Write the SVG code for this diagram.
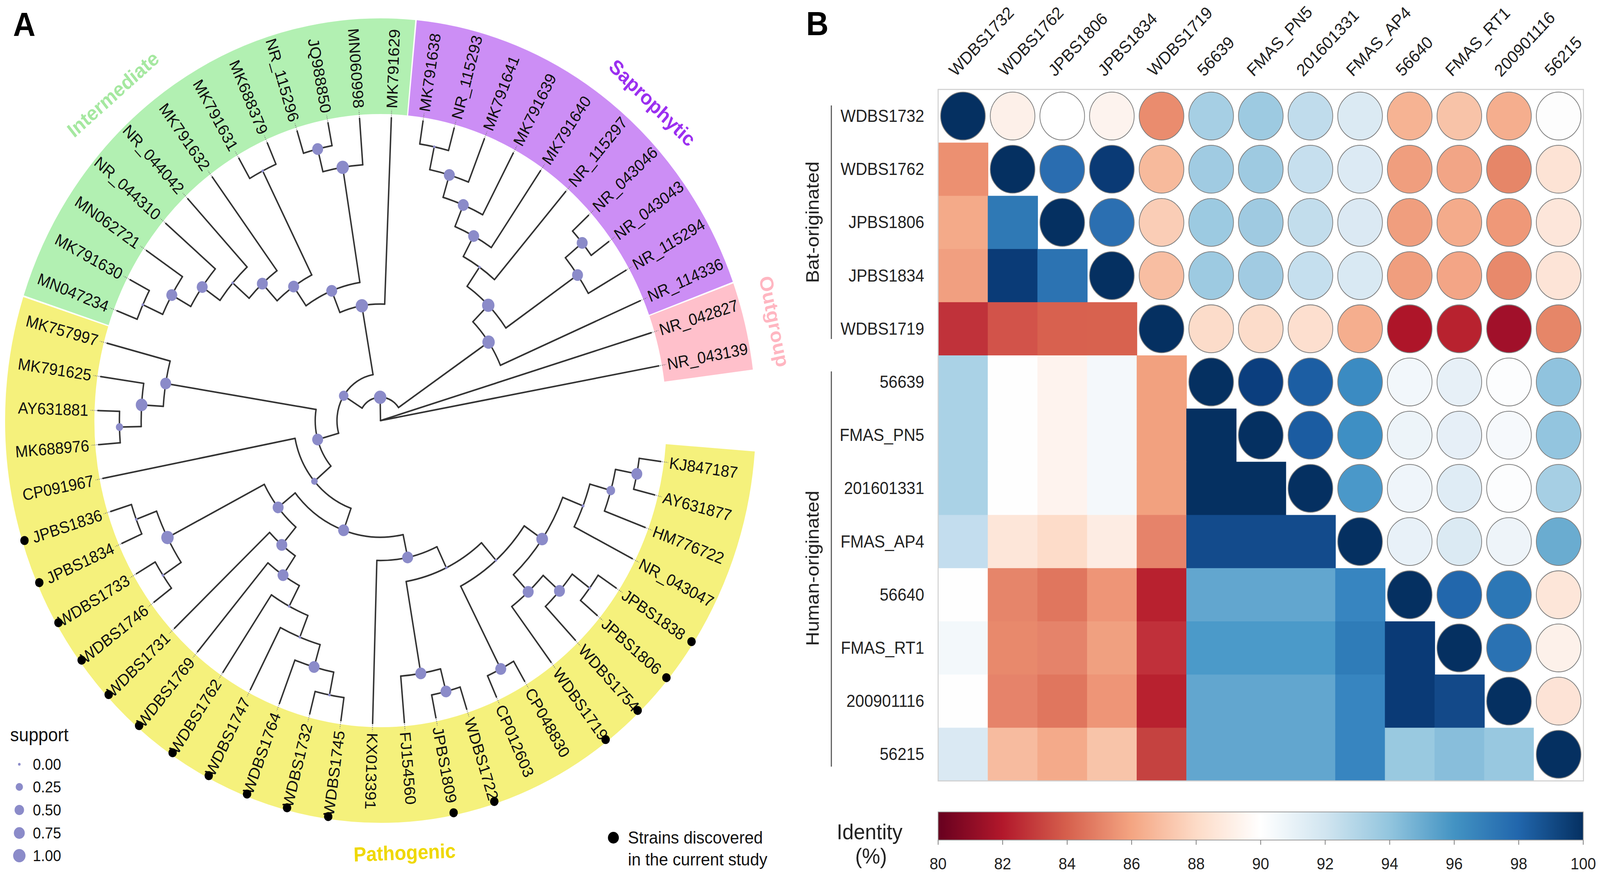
<svg xmlns="http://www.w3.org/2000/svg" width="4390" height="2261" viewBox="0 0 4390 2261" preserveAspectRatio="none">
<defs>
<linearGradient id="rdbu" x1="0" x2="1" y1="0" y2="0">
<stop offset="0" stop-color="#67001f"/><stop offset="0.1" stop-color="#b2182b"/><stop offset="0.2" stop-color="#d6604d"/><stop offset="0.3" stop-color="#f4a582"/><stop offset="0.4" stop-color="#fddbc7"/><stop offset="0.5" stop-color="#ffffff"/><stop offset="0.6" stop-color="#d1e5f0"/><stop offset="0.7" stop-color="#92c5de"/><stop offset="0.8" stop-color="#4393c3"/><stop offset="0.9" stop-color="#2166ac"/><stop offset="1" stop-color="#053061"/>
</linearGradient>
</defs>
<style>
svg{width:100vw;height:100vh}
text{font-family:"Liberation Sans",Arial,Helvetica,sans-serif}
.ld{stroke:#777;stroke-width:2.5;stroke-dasharray:2 3;fill:none}
.sd{fill:#000}
.clade{font-size:52px;font-weight:bold;text-anchor:middle}
.rl{font-size:44px;fill:#222;text-anchor:end}
.cl{font-size:44px;fill:#222}
.uc{stroke:#808080;stroke-width:1.5}
.dg{fill:#053061;stroke:#808080;stroke-width:1.5}
.tk{font-size:42px;fill:#222;text-anchor:middle}
</style>
<rect width="4390" height="2261" fill="#fff"/>

<g id="panelA">
<text x="36" y="92" font-size="85" font-weight="bold" fill="#000">A</text>

<g id="clade-ring" transform="translate(1044,1077)" fill="none" stroke-width="245">
<circle r="907.5" stroke="#ffc0cb" stroke-dasharray="200.52 9999" transform="rotate(-19.955)"/>
<circle r="907.5" stroke="#cc8ef5" stroke-dasharray="1017.81 9999" transform="rotate(-84.455)"/>
<circle r="907.5" stroke="#b2f0b2" stroke-dasharray="1222.13 9999" transform="rotate(-161.855)"/>
<circle r="907.5" stroke="#f5f17c" stroke-dasharray="3064.5 9999" transform="rotate(-355.6)"/>
</g>

<g id="clade-labels">
<text class="clade" fill="#a5e8a0" dy=".35em" transform="translate(310,241) rotate(-40)">Intermediate</text>
<text class="clade" fill="#9b2ff0" dy=".35em" transform="translate(1790,263) rotate(42.6)">Saprophytic</text>
<text class="clade" fill="#ffb6c1" dy=".35em" transform="translate(2125,823) rotate(78)">Outgroup</text>
<text class="clade" fill="#efd800" dy=".35em" transform="translate(1110,2183) rotate(-2)">Pathogenic</text>
</g>

<g id="connectors" transform="translate(1044,1077)" fill="none" stroke="#333" stroke-width="4" stroke-linecap="round">
<circle r="59.7" stroke-dasharray="118.43 9999" transform="rotate(-147.79)"/>
<circle r="119.4" stroke-dasharray="199.73 9999" transform="rotate(-195.715)"/>
<circle r="358.2" stroke-dasharray="135.47 9999" transform="rotate(-44.97)"/>
<circle r="417.9" stroke-dasharray="151.42 9999" transform="rotate(-55.35)"/>
<circle r="477.6" stroke-dasharray="104.2 9999" transform="rotate(-61.6)"/>
<circle r="537.3" stroke-dasharray="113.38 9999" transform="rotate(-67.64)"/>
<circle r="597" stroke-dasharray="117.64 9999" transform="rotate(-73.29)"/>
<circle r="656.7" stroke-dasharray="110.89 9999" transform="rotate(-78.125)"/>
<circle r="716.4" stroke-dasharray="80.65 9999" transform="rotate(-81.35)"/>
<circle r="656.7" stroke-dasharray="110.89 9999" transform="rotate(-39.425)"/>
<circle r="716.4" stroke-dasharray="80.65 9999" transform="rotate(-42.65)"/>
<circle r="298.5" stroke-dasharray="125.76 9999" transform="rotate(-111.94)"/>
<circle r="358.2" stroke-dasharray="160.67 9999" transform="rotate(-124.79)"/>
<circle r="656.7" stroke-dasharray="110.89 9999" transform="rotate(-103.925)"/>
<circle r="716.4" stroke-dasharray="80.65 9999" transform="rotate(-107.15)"/>
<circle r="417.9" stroke-dasharray="116.15 9999" transform="rotate(-132.75)"/>
<circle r="716.4" stroke-dasharray="80.65 9999" transform="rotate(-120.05)"/>
<circle r="477.6" stroke-dasharray="104.2 9999" transform="rotate(-139)"/>
<circle r="537.3" stroke-dasharray="113.38 9999" transform="rotate(-145.04)"/>
<circle r="597" stroke-dasharray="117.64 9999" transform="rotate(-150.69)"/>
<circle r="656.7" stroke-dasharray="110.89 9999" transform="rotate(-155.525)"/>
<circle r="716.4" stroke-dasharray="80.65 9999" transform="rotate(-158.75)"/>
<circle r="179.1" stroke-dasharray="155.51 9999" transform="rotate(-220.59)"/>
<circle r="597" stroke-dasharray="117.64 9999" transform="rotate(-176.49)"/>
<circle r="656.7" stroke-dasharray="110.89 9999" transform="rotate(-181.325)"/>
<circle r="716.4" stroke-dasharray="80.65 9999" transform="rotate(-184.55)"/>
<circle r="238.8" stroke-dasharray="246.65 9999" transform="rotate(-250.18)"/>
<circle r="298.5" stroke-dasharray="331.55 9999" transform="rotate(-282)"/>
<circle r="358.2" stroke-dasharray="140.51 9999" transform="rotate(-229.6)"/>
<circle r="656.7" stroke-dasharray="147.86 9999" transform="rotate(-213.575)"/>
<circle r="716.4" stroke-dasharray="80.65 9999" transform="rotate(-203.9)"/>
<circle r="716.4" stroke-dasharray="80.65 9999" transform="rotate(-216.8)"/>
<circle r="417.9" stroke-dasharray="92.63 9999" transform="rotate(-235.95)"/>
<circle r="477.6" stroke-dasharray="104.2 9999" transform="rotate(-242.2)"/>
<circle r="537.3" stroke-dasharray="113.38 9999" transform="rotate(-248.24)"/>
<circle r="597" stroke-dasharray="117.64 9999" transform="rotate(-253.89)"/>
<circle r="656.7" stroke-dasharray="110.89 9999" transform="rotate(-258.725)"/>
<circle r="716.4" stroke-dasharray="80.65 9999" transform="rotate(-261.95)"/>
<circle r="358.2" stroke-dasharray="170.11 9999" transform="rotate(-295.61)"/>
<circle r="417.9" stroke-dasharray="232.27 9999" transform="rotate(-311.535)"/>
<circle r="656.7" stroke-dasharray="110.89 9999" transform="rotate(-284.525)"/>
<circle r="716.4" stroke-dasharray="80.65 9999" transform="rotate(-287.75)"/>
<circle r="477.6" stroke-dasharray="235.23 9999" transform="rotate(-325.645)"/>
<circle r="716.4" stroke-dasharray="80.65 9999" transform="rotate(-300.65)"/>
<circle r="537.3" stroke-dasharray="241.95 9999" transform="rotate(-338.545)"/>
<circle r="597" stroke-dasharray="117.64 9999" transform="rotate(-318.39)"/>
<circle r="656.7" stroke-dasharray="110.89 9999" transform="rotate(-323.225)"/>
<circle r="716.4" stroke-dasharray="80.65 9999" transform="rotate(-326.45)"/>
<circle r="597" stroke-dasharray="117.64 9999" transform="rotate(-344.19)"/>
<circle r="656.7" stroke-dasharray="110.89 9999" transform="rotate(-349.025)"/>
<circle r="716.4" stroke-dasharray="80.65 9999" transform="rotate(-352.25)"/>

<path d="M0 0H59.7" transform="rotate(-90.96)"/>
<path d="M0 0H776.1" transform="rotate(-10.4)"/>
<path d="M0 0H776.1" transform="rotate(-16.85)"/>
<path d="M59.7 0H119.4" transform="rotate(-147.79)"/>
<path d="M59.7 0H358.2" transform="rotate(-34.13)"/>
<path d="M119.4 0H298.5" transform="rotate(-99.87)"/>
<path d="M119.4 0H179.1" transform="rotate(-195.715)"/>
<path d="M358.2 0H417.9" transform="rotate(-44.97)"/>
<path d="M358.2 0H776.1" transform="rotate(-23.3)"/>
<path d="M417.9 0H477.6" transform="rotate(-55.35)"/>
<path d="M417.9 0H656.7" transform="rotate(-34.59)"/>
<path d="M477.6 0H537.3" transform="rotate(-61.6)"/>
<path d="M477.6 0H776.1" transform="rotate(-49.1)"/>
<path d="M537.3 0H597" transform="rotate(-67.64)"/>
<path d="M537.3 0H776.1" transform="rotate(-55.55)"/>
<path d="M597 0H656.7" transform="rotate(-73.29)"/>
<path d="M597 0H776.1" transform="rotate(-62)"/>
<path d="M656.7 0H716.4" transform="rotate(-78.125)"/>
<path d="M656.7 0H776.1" transform="rotate(-68.45)"/>
<path d="M716.4 0H776.1" transform="rotate(-81.35)"/>
<path d="M716.4 0H776.1" transform="rotate(-74.9)"/>
<path d="M656.7 0H716.4" transform="rotate(-39.425)"/>
<path d="M656.7 0H776.1" transform="rotate(-29.75)"/>
<path d="M716.4 0H776.1" transform="rotate(-42.65)"/>
<path d="M716.4 0H776.1" transform="rotate(-36.2)"/>
<path d="M298.5 0H776.1" transform="rotate(-87.8)"/>
<path d="M298.5 0H358.2" transform="rotate(-111.94)"/>
<path d="M358.2 0H656.7" transform="rotate(-99.09)"/>
<path d="M358.2 0H417.9" transform="rotate(-124.79)"/>
<path d="M656.7 0H776.1" transform="rotate(-94.25)"/>
<path d="M656.7 0H716.4" transform="rotate(-103.925)"/>
<path d="M716.4 0H776.1" transform="rotate(-100.7)"/>
<path d="M716.4 0H776.1" transform="rotate(-107.15)"/>
<path d="M417.9 0H716.4" transform="rotate(-116.825)"/>
<path d="M417.9 0H477.6" transform="rotate(-132.75)"/>
<path d="M716.4 0H776.1" transform="rotate(-113.6)"/>
<path d="M716.4 0H776.1" transform="rotate(-120.05)"/>
<path d="M477.6 0H776.1" transform="rotate(-126.5)"/>
<path d="M477.6 0H537.3" transform="rotate(-139)"/>
<path d="M537.3 0H776.1" transform="rotate(-132.95)"/>
<path d="M537.3 0H597" transform="rotate(-145.04)"/>
<path d="M597 0H776.1" transform="rotate(-139.4)"/>
<path d="M597 0H656.7" transform="rotate(-150.69)"/>
<path d="M656.7 0H776.1" transform="rotate(-145.85)"/>
<path d="M656.7 0H716.4" transform="rotate(-155.525)"/>
<path d="M716.4 0H776.1" transform="rotate(-152.3)"/>
<path d="M716.4 0H776.1" transform="rotate(-158.75)"/>
<path d="M179.1 0H597" transform="rotate(-170.84)"/>
<path d="M179.1 0H238.8" transform="rotate(-220.59)"/>
<path d="M597 0H776.1" transform="rotate(-165.2)"/>
<path d="M597 0H656.7" transform="rotate(-176.49)"/>
<path d="M656.7 0H776.1" transform="rotate(-171.65)"/>
<path d="M656.7 0H716.4" transform="rotate(-181.325)"/>
<path d="M716.4 0H776.1" transform="rotate(-178.1)"/>
<path d="M716.4 0H776.1" transform="rotate(-184.55)"/>
<path d="M238.8 0H776.1" transform="rotate(-191)"/>
<path d="M238.8 0H298.5" transform="rotate(-250.18)"/>
<path d="M298.5 0H358.2" transform="rotate(-218.36)"/>
<path d="M298.5 0H358.2" transform="rotate(-282)"/>
<path d="M358.2 0H656.7" transform="rotate(-207.125)"/>
<path d="M358.2 0H417.9" transform="rotate(-229.6)"/>
<path d="M656.7 0H716.4" transform="rotate(-200.675)"/>
<path d="M656.7 0H716.4" transform="rotate(-213.575)"/>
<path d="M716.4 0H776.1" transform="rotate(-197.45)"/>
<path d="M716.4 0H776.1" transform="rotate(-203.9)"/>
<path d="M716.4 0H776.1" transform="rotate(-210.35)"/>
<path d="M716.4 0H776.1" transform="rotate(-216.8)"/>
<path d="M417.9 0H776.1" transform="rotate(-223.25)"/>
<path d="M417.9 0H477.6" transform="rotate(-235.95)"/>
<path d="M477.6 0H776.1" transform="rotate(-229.7)"/>
<path d="M477.6 0H537.3" transform="rotate(-242.2)"/>
<path d="M537.3 0H776.1" transform="rotate(-236.15)"/>
<path d="M537.3 0H597" transform="rotate(-248.24)"/>
<path d="M597 0H776.1" transform="rotate(-242.6)"/>
<path d="M597 0H656.7" transform="rotate(-253.89)"/>
<path d="M656.7 0H776.1" transform="rotate(-249.05)"/>
<path d="M656.7 0H716.4" transform="rotate(-258.725)"/>
<path d="M716.4 0H776.1" transform="rotate(-255.5)"/>
<path d="M716.4 0H776.1" transform="rotate(-261.95)"/>
<path d="M358.2 0H776.1" transform="rotate(-268.4)"/>
<path d="M358.2 0H417.9" transform="rotate(-295.61)"/>
<path d="M417.9 0H656.7" transform="rotate(-279.69)"/>
<path d="M417.9 0H477.6" transform="rotate(-311.535)"/>
<path d="M656.7 0H776.1" transform="rotate(-274.85)"/>
<path d="M656.7 0H716.4" transform="rotate(-284.525)"/>
<path d="M716.4 0H776.1" transform="rotate(-281.3)"/>
<path d="M716.4 0H776.1" transform="rotate(-287.75)"/>
<path d="M477.6 0H716.4" transform="rotate(-297.425)"/>
<path d="M477.6 0H537.3" transform="rotate(-325.645)"/>
<path d="M716.4 0H776.1" transform="rotate(-294.2)"/>
<path d="M716.4 0H776.1" transform="rotate(-300.65)"/>
<path d="M537.3 0H597" transform="rotate(-312.745)"/>
<path d="M537.3 0H597" transform="rotate(-338.545)"/>
<path d="M597 0H776.1" transform="rotate(-307.1)"/>
<path d="M597 0H656.7" transform="rotate(-318.39)"/>
<path d="M656.7 0H776.1" transform="rotate(-313.55)"/>
<path d="M656.7 0H716.4" transform="rotate(-323.225)"/>
<path d="M716.4 0H776.1" transform="rotate(-320)"/>
<path d="M716.4 0H776.1" transform="rotate(-326.45)"/>
<path d="M597 0H776.1" transform="rotate(-332.9)"/>
<path d="M597 0H656.7" transform="rotate(-344.19)"/>
<path d="M656.7 0H776.1" transform="rotate(-339.35)"/>
<path d="M656.7 0H716.4" transform="rotate(-349.025)"/>
<path d="M716.4 0H776.1" transform="rotate(-345.8)"/>
<path d="M716.4 0H776.1" transform="rotate(-352.25)"/>
</g>

<g id="support-nodes" transform="translate(1044,1077)" fill="#8b8bc9">
<circle id="node-I" cx="59.7" r="17" transform="rotate(-90.96)"/>
<circle id="node-A" cx="119.4" r="13" transform="rotate(-147.79)"/>
<circle id="node-P" cx="358.2" r="17" transform="rotate(-34.13)"/>
<circle id="node-n8" cx="417.9" r="17" transform="rotate(-44.97)"/>
<circle id="node-n5" cx="477.6" r="3.5" transform="rotate(-55.35)"/>
<circle id="node-n4" cx="537.3" r="15" transform="rotate(-61.6)"/>
<circle id="node-n3" cx="597" r="15" transform="rotate(-67.64)"/>
<circle id="node-n2" cx="656.7" r="15" transform="rotate(-73.29)"/>
<circle id="node-n1" cx="716.4" r="3.5" transform="rotate(-78.125)"/>
<circle id="node-n7" cx="656.7" r="15" transform="rotate(-34.59)"/>
<circle id="node-n6" cx="716.4" r="15" transform="rotate(-39.425)"/>
<circle id="node-G" cx="298.5" r="17" transform="rotate(-99.87)"/>
<circle id="node-G2" cx="358.2" r="15" transform="rotate(-111.94)"/>
<circle id="node-G3" cx="656.7" r="17" transform="rotate(-99.09)"/>
<circle id="node-G5" cx="716.4" r="15" transform="rotate(-103.925)"/>
<circle id="node-G4" cx="417.9" r="15" transform="rotate(-124.79)"/>
<circle id="node-Gp" cx="716.4" r="3.5" transform="rotate(-116.825)"/>
<circle id="node-G6" cx="477.6" r="15" transform="rotate(-132.75)"/>
<circle id="node-G7" cx="537.3" r="3.5" transform="rotate(-139)"/>
<circle id="node-G8" cx="597" r="15" transform="rotate(-145.04)"/>
<circle id="node-G9" cx="656.7" r="15" transform="rotate(-150.69)"/>
<circle id="node-G10" cx="716.4" r="3.5" transform="rotate(-155.525)"/>
<circle id="node-Y0" cx="179.1" r="15" transform="rotate(-195.715)"/>
<circle id="node-Y1" cx="597" r="15" transform="rotate(-170.84)"/>
<circle id="node-Y1b" cx="656.7" r="16" transform="rotate(-176.49)"/>
<circle id="node-Y1c" cx="716.4" r="10" transform="rotate(-181.325)"/>
<circle id="node-Y2" cx="238.8" r="9" transform="rotate(-220.59)"/>
<circle id="node-Y3" cx="298.5" r="15" transform="rotate(-250.18)"/>
<circle id="node-Y4" cx="358.2" r="15" transform="rotate(-218.36)"/>
<circle id="node-Y6" cx="656.7" r="17" transform="rotate(-207.125)"/>
<circle id="node-Y6a" cx="716.4" r="3.5" transform="rotate(-200.675)"/>
<circle id="node-Y6b" cx="716.4" r="3.5" transform="rotate(-213.575)"/>
<circle id="node-Y7" cx="417.9" r="15" transform="rotate(-229.6)"/>
<circle id="node-Y8" cx="477.6" r="15" transform="rotate(-235.95)"/>
<circle id="node-Y9" cx="537.3" r="3.5" transform="rotate(-242.2)"/>
<circle id="node-Y10" cx="597" r="3.5" transform="rotate(-248.24)"/>
<circle id="node-Y11" cx="656.7" r="15" transform="rotate(-253.89)"/>
<circle id="node-Y12" cx="716.4" r="3.5" transform="rotate(-258.725)"/>
<circle id="node-Y5" cx="358.2" r="15" transform="rotate(-282)"/>
<circle id="node-Y13" cx="417.9" r="3.5" transform="rotate(-295.61)"/>
<circle id="node-Y14" cx="656.7" r="15" transform="rotate(-279.69)"/>
<circle id="node-Y16" cx="716.4" r="15" transform="rotate(-284.525)"/>
<circle id="node-Y15" cx="477.6" r="3.5" transform="rotate(-311.535)"/>
<circle id="node-Y17" cx="716.4" r="15" transform="rotate(-297.425)"/>
<circle id="node-Y18" cx="537.3" r="16" transform="rotate(-325.645)"/>
<circle id="node-Y19" cx="597" r="15" transform="rotate(-312.745)"/>
<circle id="node-Y21" cx="656.7" r="15" transform="rotate(-318.39)"/>
<circle id="node-Y22" cx="716.4" r="3.5" transform="rotate(-323.225)"/>
<circle id="node-Y20" cx="597" r="4" transform="rotate(-338.545)"/>
<circle id="node-Y23" cx="656.7" r="12" transform="rotate(-344.19)"/>
<circle id="node-Y24" cx="716.4" r="15" transform="rotate(-349.025)"/>
</g>

<g id="tips" transform="translate(1044,1077)" font-size="42" fill="#111">
<g id="tip-NR_043139" transform="rotate(-10.4)"><path class="ld" d="M780 0H796"/><text x="800" dy=".35em">NR_043139</text></g>
<g id="tip-NR_042827" transform="rotate(-16.85)"><path class="ld" d="M780 0H796"/><text x="800" dy=".35em">NR_042827</text></g>
<g id="tip-NR_114336" transform="rotate(-23.3)"><path class="ld" d="M780 0H796"/><text x="800" dy=".35em">NR_114336</text></g>
<g id="tip-NR_115294" transform="rotate(-29.75)"><path class="ld" d="M780 0H796"/><text x="800" dy=".35em">NR_115294</text></g>
<g id="tip-NR_043043" transform="rotate(-36.2)"><path class="ld" d="M780 0H796"/><text x="800" dy=".35em">NR_043043</text></g>
<g id="tip-NR_043046" transform="rotate(-42.65)"><path class="ld" d="M780 0H796"/><text x="800" dy=".35em">NR_043046</text></g>
<g id="tip-NR_115297" transform="rotate(-49.1)"><path class="ld" d="M780 0H796"/><text x="800" dy=".35em">NR_115297</text></g>
<g id="tip-MK791640" transform="rotate(-55.55)"><path class="ld" d="M780 0H796"/><text x="800" dy=".35em">MK791640</text></g>
<g id="tip-MK791639" transform="rotate(-62)"><path class="ld" d="M780 0H796"/><text x="800" dy=".35em">MK791639</text></g>
<g id="tip-MK791641" transform="rotate(-68.45)"><path class="ld" d="M780 0H796"/><text x="800" dy=".35em">MK791641</text></g>
<g id="tip-NR_115293" transform="rotate(-74.9)"><path class="ld" d="M780 0H796"/><text x="800" dy=".35em">NR_115293</text></g>
<g id="tip-MK791638" transform="rotate(-81.35)"><path class="ld" d="M780 0H796"/><text x="800" dy=".35em">MK791638</text></g>
<g id="tip-MK791629" transform="rotate(-87.8)"><path class="ld" d="M780 0H796"/><text x="800" dy=".35em">MK791629</text></g>
<g id="tip-MN060998" transform="rotate(85.75)"><path class="ld" d="M-780 0H-796"/><text x="-802" dy=".35em" text-anchor="end">MN060998</text></g>
<g id="tip-JQ988850" transform="rotate(79.3)"><path class="ld" d="M-780 0H-796"/><text x="-802" dy=".35em" text-anchor="end">JQ988850</text></g>
<g id="tip-NR_115296" transform="rotate(72.85)"><path class="ld" d="M-780 0H-796"/><text x="-802" dy=".35em" text-anchor="end">NR_115296</text></g>
<g id="tip-MK688379" transform="rotate(66.4)"><path class="ld" d="M-780 0H-796"/><text x="-802" dy=".35em" text-anchor="end">MK688379</text></g>
<g id="tip-MK791631" transform="rotate(59.95)"><path class="ld" d="M-780 0H-796"/><text x="-802" dy=".35em" text-anchor="end">MK791631</text></g>
<g id="tip-MK791632" transform="rotate(53.5)"><path class="ld" d="M-780 0H-796"/><text x="-802" dy=".35em" text-anchor="end">MK791632</text></g>
<g id="tip-NR_044042" transform="rotate(47.05)"><path class="ld" d="M-780 0H-796"/><text x="-802" dy=".35em" text-anchor="end">NR_044042</text></g>
<g id="tip-NR_044310" transform="rotate(40.6)"><path class="ld" d="M-780 0H-796"/><text x="-802" dy=".35em" text-anchor="end">NR_044310</text></g>
<g id="tip-MN062721" transform="rotate(34.15)"><path class="ld" d="M-780 0H-796"/><text x="-802" dy=".35em" text-anchor="end">MN062721</text></g>
<g id="tip-MK791630" transform="rotate(27.7)"><path class="ld" d="M-780 0H-796"/><text x="-802" dy=".35em" text-anchor="end">MK791630</text></g>
<g id="tip-MN047234" transform="rotate(21.25)"><path class="ld" d="M-780 0H-796"/><text x="-802" dy=".35em" text-anchor="end">MN047234</text></g>
<g id="tip-MK757997" transform="rotate(14.8)"><path class="ld" d="M-780 0H-796"/><text x="-802" dy=".35em" text-anchor="end">MK757997</text></g>
<g id="tip-MK791625" transform="rotate(8.35)"><path class="ld" d="M-780 0H-796"/><text x="-802" dy=".35em" text-anchor="end">MK791625</text></g>
<g id="tip-AY631881" transform="rotate(1.9)"><path class="ld" d="M-780 0H-796"/><text x="-802" dy=".35em" text-anchor="end">AY631881</text></g>
<g id="tip-MK688976" transform="rotate(-4.55)"><path class="ld" d="M-780 0H-796"/><text x="-802" dy=".35em" text-anchor="end">MK688976</text></g>
<g id="tip-CP091967" transform="rotate(-11)"><path class="ld" d="M-780 0H-796"/><text x="-802" dy=".35em" text-anchor="end">CP091967</text></g>
<g id="tip-JPBS1836" transform="rotate(-17.45)"><path class="ld" d="M-780 0H-796"/><text x="-802" dy=".35em" text-anchor="end">JPBS1836</text><circle class="sd" cx="-1024" r="11.5"/></g>
<g id="tip-JPBS1834" transform="rotate(-23.9)"><path class="ld" d="M-780 0H-796"/><text x="-802" dy=".35em" text-anchor="end">JPBS1834</text><circle class="sd" cx="-1024" r="11.5"/></g>
<g id="tip-WDBS1733" transform="rotate(-30.35)"><path class="ld" d="M-780 0H-796"/><text x="-802" dy=".35em" text-anchor="end">WDBS1733</text><circle class="sd" cx="-1024" r="11.5"/></g>
<g id="tip-WDBS1746" transform="rotate(-36.8)"><path class="ld" d="M-780 0H-796"/><text x="-802" dy=".35em" text-anchor="end">WDBS1746</text><circle class="sd" cx="-1024" r="11.5"/></g>
<g id="tip-WDBS1731" transform="rotate(-43.25)"><path class="ld" d="M-780 0H-796"/><text x="-802" dy=".35em" text-anchor="end">WDBS1731</text><circle class="sd" cx="-1024" r="11.5"/></g>
<g id="tip-WDBS1769" transform="rotate(-49.7)"><path class="ld" d="M-780 0H-796"/><text x="-802" dy=".35em" text-anchor="end">WDBS1769</text><circle class="sd" cx="-1024" r="11.5"/></g>
<g id="tip-WDBS1762" transform="rotate(-56.15)"><path class="ld" d="M-780 0H-796"/><text x="-802" dy=".35em" text-anchor="end">WDBS1762</text><circle class="sd" cx="-1024" r="11.5"/></g>
<g id="tip-WDBS1747" transform="rotate(-62.6)"><path class="ld" d="M-780 0H-796"/><text x="-802" dy=".35em" text-anchor="end">WDBS1747</text><circle class="sd" cx="-1024" r="11.5"/></g>
<g id="tip-WDBS1764" transform="rotate(-69.05)"><path class="ld" d="M-780 0H-796"/><text x="-802" dy=".35em" text-anchor="end">WDBS1764</text><circle class="sd" cx="-1024" r="11.5"/></g>
<g id="tip-WDBS1732" transform="rotate(-75.5)"><path class="ld" d="M-780 0H-796"/><text x="-802" dy=".35em" text-anchor="end">WDBS1732</text><circle class="sd" cx="-1024" r="11.5"/></g>
<g id="tip-WDBS1745" transform="rotate(-81.95)"><path class="ld" d="M-780 0H-796"/><text x="-802" dy=".35em" text-anchor="end">WDBS1745</text><circle class="sd" cx="-1024" r="11.5"/></g>
<g id="tip-KX013391" transform="rotate(-268.4)"><path class="ld" d="M780 0H796"/><text x="800" dy=".35em">KX013391</text></g>
<g id="tip-FJ154560" transform="rotate(-274.85)"><path class="ld" d="M780 0H796"/><text x="800" dy=".35em">FJ154560</text></g>
<g id="tip-JPBS1809" transform="rotate(-281.3)"><path class="ld" d="M780 0H796"/><text x="800" dy=".35em">JPBS1809</text><circle class="sd" cx="1024" r="11.5"/></g>
<g id="tip-WDBS1722" transform="rotate(-287.75)"><path class="ld" d="M780 0H796"/><text x="800" dy=".35em">WDBS1722</text><circle class="sd" cx="1024" r="11.5"/></g>
<g id="tip-CP012603" transform="rotate(-294.2)"><path class="ld" d="M780 0H796"/><text x="800" dy=".35em">CP012603</text></g>
<g id="tip-CP048830" transform="rotate(-300.65)"><path class="ld" d="M780 0H796"/><text x="800" dy=".35em">CP048830</text></g>
<g id="tip-WDBS1719" transform="rotate(-307.1)"><path class="ld" d="M780 0H796"/><text x="800" dy=".35em">WDBS1719</text><circle class="sd" cx="1024" r="11.5"/></g>
<g id="tip-WDBS1754" transform="rotate(-313.55)"><path class="ld" d="M780 0H796"/><text x="800" dy=".35em">WDBS1754</text><circle class="sd" cx="1024" r="11.5"/></g>
<g id="tip-JPBS1806" transform="rotate(-320)"><path class="ld" d="M780 0H796"/><text x="800" dy=".35em">JPBS1806</text><circle class="sd" cx="1024" r="11.5"/></g>
<g id="tip-JPBS1838" transform="rotate(-326.45)"><path class="ld" d="M780 0H796"/><text x="800" dy=".35em">JPBS1838</text><circle class="sd" cx="1024" r="11.5"/></g>
<g id="tip-NR_043047" transform="rotate(-332.9)"><path class="ld" d="M780 0H796"/><text x="800" dy=".35em">NR_043047</text></g>
<g id="tip-HM776722" transform="rotate(-339.35)"><path class="ld" d="M780 0H796"/><text x="800" dy=".35em">HM776722</text></g>
<g id="tip-AY631877" transform="rotate(-345.8)"><path class="ld" d="M780 0H796"/><text x="800" dy=".35em">AY631877</text></g>
<g id="tip-KJ847187" transform="rotate(-352.25)"><path class="ld" d="M780 0H796"/><text x="800" dy=".35em">KJ847187</text></g>
</g>

<g id="support-legend" fill="#111">
<text x="28" y="1898" font-size="48">support</text>
<g fill="#8b8bc9">
<circle cx="53" cy="1957" r="3.5"/><circle cx="53" cy="2015" r="10"/><circle cx="53" cy="2074" r="13"/><circle cx="53" cy="2133" r="15"/><circle cx="53" cy="2191" r="17"/>
</g>
<g font-size="40">
<text x="90" y="1971">0.00</text><text x="90" y="2029">0.25</text><text x="90" y="2088">0.50</text><text x="90" y="2147">0.75</text><text x="90" y="2205">1.00</text>
</g>
</g>

<g id="strain-legend" fill="#111">
<circle cx="1683" cy="2145" r="15" fill="#000"/>
<text x="1723" y="2160" font-size="45">Strains discovered</text>
<text x="1723" y="2216" font-size="45">in the current study</text>
</g>
</g>

<g id="panelB">
<text x="2212" y="90" font-size="85" font-weight="bold" fill="#000">B</text>

<g id="column-labels">
<text class="cl" transform="translate(2622.1,198) rotate(-45)">WDBS1732</text>
<text class="cl" transform="translate(2758.3,198) rotate(-45)">WDBS1762</text>
<text class="cl" transform="translate(2894.5,198) rotate(-45)">JPBS1806</text>
<text class="cl" transform="translate(3030.7,198) rotate(-45)">JPBS1834</text>
<text class="cl" transform="translate(3166.9,198) rotate(-45)">WDBS1719</text>
<text class="cl" transform="translate(3303.1,198) rotate(-45)">56639</text>
<text class="cl" transform="translate(3439.3,198) rotate(-45)">FMAS_PN5</text>
<text class="cl" transform="translate(3575.5,198) rotate(-45)">201601331</text>
<text class="cl" transform="translate(3711.7,198) rotate(-45)">FMAS_AP4</text>
<text class="cl" transform="translate(3847.9,198) rotate(-45)">56640</text>
<text class="cl" transform="translate(3984.1,198) rotate(-45)">FMAS_RT1</text>
<text class="cl" transform="translate(4118.3,199) rotate(-45)">200901116</text>
<text class="cl" transform="translate(4256.5,198) rotate(-45)">56215</text>
</g>

<g id="row-labels">
<text class="rl" x="2536" y="312.1">WDBS1732</text>
<text class="rl" x="2536" y="448.3">WDBS1762</text>
<text class="rl" x="2536" y="584.5">JPBS1806</text>
<text class="rl" x="2536" y="720.7">JPBS1834</text>
<text class="rl" x="2536" y="856.9">WDBS1719</text>
<text class="rl" x="2536" y="993.1">56639</text>
<text class="rl" x="2536" y="1129.3">FMAS_PN5</text>
<text class="rl" x="2536" y="1265.5">201601331</text>
<text class="rl" x="2536" y="1401.7">FMAS_AP4</text>
<text class="rl" x="2536" y="1537.9">56640</text>
<text class="rl" x="2536" y="1674.1">FMAS_RT1</text>
<text class="rl" x="2536" y="1810.3">200901116</text>
<text class="rl" x="2536" y="1946.5">56215</text>
</g>

<g id="groups" fill="#222" font-size="50">
<path d="M2281 270V868M2281 951V1963" stroke="#555" stroke-width="3" fill="none"/>
<text text-anchor="middle" dy=".35em" transform="translate(2229,569) rotate(-90)">Bat-originated</text>
<text text-anchor="middle" dy=".35em" transform="translate(2229,1455) rotate(-90)">Human-originated</text>
</g>

<g id="matrix" transform="translate(2574,229) scale(1.362)">
<g id="row-0">
<circle class="dg" cx="50" cy="50" r="45"/>
<g class="uc">
<circle cx="150" cy="50" r="45" fill="#fdf0e9"/><circle cx="250" cy="50" r="45" fill="#ffffff"/><circle cx="350" cy="50" r="45" fill="#fdf3ee"/><circle cx="450" cy="50" r="45" fill="#ea8c6e"/><circle cx="550" cy="50" r="45" fill="#a6cfe4"/><circle cx="650" cy="50" r="45" fill="#9dcae1"/><circle cx="750" cy="50" r="45" fill="#c0dcec"/><circle cx="850" cy="50" r="45" fill="#dbeaf3"/><circle cx="950" cy="50" r="45" fill="#f6b393"/><circle cx="1050" cy="50" r="45" fill="#f8c3a8"/><circle cx="1150" cy="50" r="45" fill="#f5ae8e"/><circle cx="1250" cy="50" r="45" fill="#fdfdfd"/>
</g></g>
<g id="row-1">
<rect x="0" y="100" width="101" height="101" fill="#ec9071"/>
<circle class="dg" cx="150" cy="150" r="45"/>
<g class="uc">
<circle cx="250" cy="150" r="45" fill="#2a6db0"/><circle cx="350" cy="150" r="45" fill="#0a3a75"/><circle cx="450" cy="150" r="45" fill="#f7ba9c"/><circle cx="550" cy="150" r="45" fill="#a0cbe2"/><circle cx="650" cy="150" r="45" fill="#9ecae1"/><circle cx="750" cy="150" r="45" fill="#c6dfee"/><circle cx="850" cy="150" r="45" fill="#dceaf4"/><circle cx="950" cy="150" r="45" fill="#f09e7e"/><circle cx="1050" cy="150" r="45" fill="#f2a586"/><circle cx="1150" cy="150" r="45" fill="#e68668"/><circle cx="1250" cy="150" r="45" fill="#fde3d5"/>
</g></g>
<g id="row-2">
<rect x="0" y="200" width="101" height="101" fill="#f4aa89"/><rect x="100" y="200" width="101" height="101" fill="#2f79b5"/>
<circle class="dg" cx="250" cy="250" r="45"/>
<g class="uc">
<circle cx="350" cy="250" r="45" fill="#2b6fb1"/><circle cx="450" cy="250" r="45" fill="#facdb6"/><circle cx="550" cy="250" r="45" fill="#9ccae1"/><circle cx="650" cy="250" r="45" fill="#9fcae1"/><circle cx="750" cy="250" r="45" fill="#c2ddec"/><circle cx="850" cy="250" r="45" fill="#dbe9f3"/><circle cx="950" cy="250" r="45" fill="#f09e7e"/><circle cx="1050" cy="250" r="45" fill="#f4ab8b"/><circle cx="1150" cy="250" r="45" fill="#ef9878"/><circle cx="1250" cy="250" r="45" fill="#fde6da"/>
</g></g>
<g id="row-3">
<rect x="0" y="300" width="101" height="101" fill="#f19f80"/><rect x="100" y="300" width="101" height="101" fill="#0a3b77"/><rect x="200" y="300" width="101" height="101" fill="#2c73b2"/>
<circle class="dg" cx="350" cy="350" r="45"/>
<g class="uc">
<circle cx="450" cy="350" r="45" fill="#f8bea2"/><circle cx="550" cy="350" r="45" fill="#9dcae1"/><circle cx="650" cy="350" r="45" fill="#a1cbe2"/><circle cx="750" cy="350" r="45" fill="#c5dfee"/><circle cx="850" cy="350" r="45" fill="#d9e9f3"/><circle cx="950" cy="350" r="45" fill="#f09e7e"/><circle cx="1050" cy="350" r="45" fill="#f3a586"/><circle cx="1150" cy="350" r="45" fill="#e8896b"/><circle cx="1250" cy="350" r="45" fill="#fde4d7"/>
</g></g>
<g id="row-4">
<rect x="0" y="400" width="101" height="101" fill="#c0323a"/><rect x="100" y="400" width="101" height="101" fill="#d2534a"/><rect x="200" y="400" width="101" height="101" fill="#d8614f"/><rect x="300" y="400" width="101" height="101" fill="#d8624f"/>
<circle class="dg" cx="450" cy="450" r="45"/>
<g class="uc">
<circle cx="550" cy="450" r="45" fill="#fcdcca"/><circle cx="650" cy="450" r="45" fill="#fcdcca"/><circle cx="750" cy="450" r="45" fill="#fddfcf"/><circle cx="850" cy="450" r="45" fill="#f5ae8e"/><circle cx="950" cy="450" r="45" fill="#ae1529"/><circle cx="1050" cy="450" r="45" fill="#b8222f"/><circle cx="1150" cy="450" r="45" fill="#a1102a"/><circle cx="1250" cy="450" r="45" fill="#e68668"/>
</g></g>
<g id="row-5">
<rect x="0" y="500" width="101" height="101" fill="#aad2e6"/><rect x="100" y="500" width="101" height="101" fill="#fefefe"/><rect x="200" y="500" width="101" height="101" fill="#fef3ee"/><rect x="300" y="500" width="101" height="101" fill="#f4f8fb"/><rect x="400" y="500" width="101" height="101" fill="#f2a17f"/>
<circle class="dg" cx="550" cy="550" r="45"/>
<g class="uc">
<circle cx="650" cy="550" r="45" fill="#0b3e7e"/><circle cx="750" cy="550" r="45" fill="#1c5ea3"/><circle cx="850" cy="550" r="45" fill="#3b8bc2"/><circle cx="950" cy="550" r="45" fill="#f2f7fb"/><circle cx="1050" cy="550" r="45" fill="#e7f0f7"/><circle cx="1150" cy="550" r="45" fill="#fcfdfe"/><circle cx="1250" cy="550" r="45" fill="#90c3de"/>
</g></g>
<g id="row-6">
<rect x="0" y="600" width="101" height="101" fill="#aad2e6"/><rect x="100" y="600" width="101" height="101" fill="#fefefe"/><rect x="200" y="600" width="101" height="101" fill="#fef3ee"/><rect x="300" y="600" width="101" height="101" fill="#f4f8fb"/><rect x="400" y="600" width="101" height="101" fill="#f2a17f"/><rect x="500" y="600" width="101" height="101" fill="#053061"/>
<circle class="dg" cx="650" cy="650" r="45"/>
<g class="uc">
<circle cx="750" cy="650" r="45" fill="#1b5ca1"/><circle cx="850" cy="650" r="45" fill="#3e8fc4"/><circle cx="950" cy="650" r="45" fill="#edf4f9"/><circle cx="1050" cy="650" r="45" fill="#e6eff7"/><circle cx="1150" cy="650" r="45" fill="#f6f9fc"/><circle cx="1250" cy="650" r="45" fill="#93c5df"/>
</g></g>
<g id="row-7">
<rect x="0" y="700" width="101" height="101" fill="#aad2e6"/><rect x="100" y="700" width="101" height="101" fill="#fefefe"/><rect x="200" y="700" width="101" height="101" fill="#fef3ee"/><rect x="300" y="700" width="101" height="101" fill="#f4f8fb"/><rect x="400" y="700" width="101" height="101" fill="#f2a17f"/><rect x="500" y="700" width="201" height="101" fill="#053061"/>
<circle class="dg" cx="750" cy="750" r="45"/>
<g class="uc">
<circle cx="850" cy="750" r="45" fill="#4a98c9"/><circle cx="950" cy="750" r="45" fill="#eff5fa"/><circle cx="1050" cy="750" r="45" fill="#dfecf5"/><circle cx="1150" cy="750" r="45" fill="#fcfdfe"/><circle cx="1250" cy="750" r="45" fill="#a6cfe4"/>
</g></g>
<g id="row-8">
<rect x="0" y="800" width="101" height="101" fill="#c3ddee"/><rect x="100" y="800" width="101" height="101" fill="#fde6d9"/><rect x="200" y="800" width="101" height="101" fill="#fddcc9"/><rect x="300" y="800" width="101" height="101" fill="#fdece3"/><rect x="400" y="800" width="101" height="101" fill="#e6836a"/><rect x="500" y="800" width="301" height="101" fill="#134b8c"/>
<circle class="dg" cx="850" cy="850" r="45"/>
<g class="uc">
<circle cx="950" cy="850" r="45" fill="#e8f1f8"/><circle cx="1050" cy="850" r="45" fill="#dbeaf3"/><circle cx="1150" cy="850" r="45" fill="#eef4f9"/><circle cx="1250" cy="850" r="45" fill="#6aacd0"/>
</g></g>
<g id="row-9">
<rect x="0" y="900" width="101" height="101" fill="#fefefe"/><rect x="100" y="900" width="101" height="101" fill="#e6856a"/><rect x="200" y="900" width="101" height="101" fill="#e0765e"/><rect x="300" y="900" width="101" height="101" fill="#ee9577"/><rect x="400" y="900" width="101" height="101" fill="#b8212f"/><rect x="500" y="900" width="301" height="101" fill="#62a6cf"/><rect x="800" y="900" width="101" height="101" fill="#3785c0"/>
<circle class="dg" cx="950" cy="950" r="45"/>
<g class="uc">
<circle cx="1050" cy="950" r="45" fill="#2267ac"/><circle cx="1150" cy="950" r="45" fill="#2c77b6"/><circle cx="1250" cy="950" r="45" fill="#fde6d9"/>
</g></g>
<g id="row-10">
<rect x="0" y="1000" width="101" height="101" fill="#f3f8fb"/><rect x="100" y="1000" width="101" height="101" fill="#e8896c"/><rect x="200" y="1000" width="101" height="101" fill="#e5836a"/><rect x="300" y="1000" width="101" height="101" fill="#f0a080"/><rect x="400" y="1000" width="101" height="101" fill="#c0303a"/><rect x="500" y="1000" width="301" height="101" fill="#4b9ac9"/><rect x="800" y="1000" width="101" height="101" fill="#2f7cb8"/><rect x="900" y="1000" width="101" height="101" fill="#0a3a76"/>
<circle class="dg" cx="1050" cy="1050" r="45"/>
<g class="uc">
<circle cx="1150" cy="1050" r="45" fill="#2a72b3"/><circle cx="1250" cy="1050" r="45" fill="#fdf1ea"/>
</g></g>
<g id="row-11">
<rect x="0" y="1100" width="101" height="101" fill="#fefefe"/><rect x="100" y="1100" width="101" height="101" fill="#e6836a"/><rect x="200" y="1100" width="101" height="101" fill="#e0765e"/><rect x="300" y="1100" width="101" height="101" fill="#ee9577"/><rect x="400" y="1100" width="101" height="101" fill="#b8212f"/><rect x="500" y="1100" width="301" height="101" fill="#62a6cf"/><rect x="800" y="1100" width="101" height="101" fill="#3785c0"/><rect x="900" y="1100" width="101" height="101" fill="#0a3a76"/><rect x="1000" y="1100" width="101" height="101" fill="#134989"/>
<circle class="dg" cx="1150" cy="1150" r="45"/>
<circle class="uc" cx="1250" cy="1150" r="45" fill="#fde3d6"/>
</g>
<g id="row-12">
<rect x="0" y="1200" width="101" height="100" fill="#dae9f3"/><rect x="100" y="1200" width="101" height="100" fill="#f7bb9f"/><rect x="200" y="1200" width="101" height="100" fill="#f4aa8a"/><rect x="300" y="1200" width="101" height="100" fill="#f8c4a9"/><rect x="400" y="1200" width="101" height="100" fill="#c54240"/><rect x="500" y="1200" width="301" height="100" fill="#62a6cf"/><rect x="800" y="1200" width="101" height="100" fill="#3785c0"/><rect x="900" y="1200" width="101" height="100" fill="#99c9e0"/><rect x="1000" y="1200" width="101" height="100" fill="#88bedb"/><rect x="1100" y="1200" width="100" height="100" fill="#98c8e0"/>
<circle class="dg" cx="1250" cy="1250" r="45"/>
</g>
<rect x="0" y="0" width="1300" height="1300" fill="none" stroke="#d0d0d0" stroke-width="2"/>
</g>

<g id="colorbar">
<rect x="2574" y="2079" width="1770" height="72" fill="url(#rdbu)" stroke="#999" stroke-width="2"/>
<path d="M2574 2151v12M2751 2151v12M2928 2151v12M3105 2151v12M3282 2151v12M3459 2151v12M3636 2151v12M3813 2151v12M3990 2151v12M4167 2151v12M4344 2151v12" stroke="#777" stroke-width="2"/>
<text class="tk" x="2574" y="2226">80</text><text class="tk" x="2751" y="2226">82</text><text class="tk" x="2928" y="2226">84</text><text class="tk" x="3105" y="2226">86</text><text class="tk" x="3282" y="2226">88</text><text class="tk" x="3459" y="2226">90</text><text class="tk" x="3636" y="2226">92</text><text class="tk" x="3813" y="2226">94</text><text class="tk" x="3990" y="2226">96</text><text class="tk" x="4167" y="2226">98</text><text class="tk" x="4344" y="2226">100</text>
<text x="2386" y="2149" font-size="56" fill="#222" text-anchor="middle">Identity</text>
<text x="2390" y="2211" font-size="56" fill="#222" text-anchor="middle">(%)</text>
</g>
</g>
</svg>
